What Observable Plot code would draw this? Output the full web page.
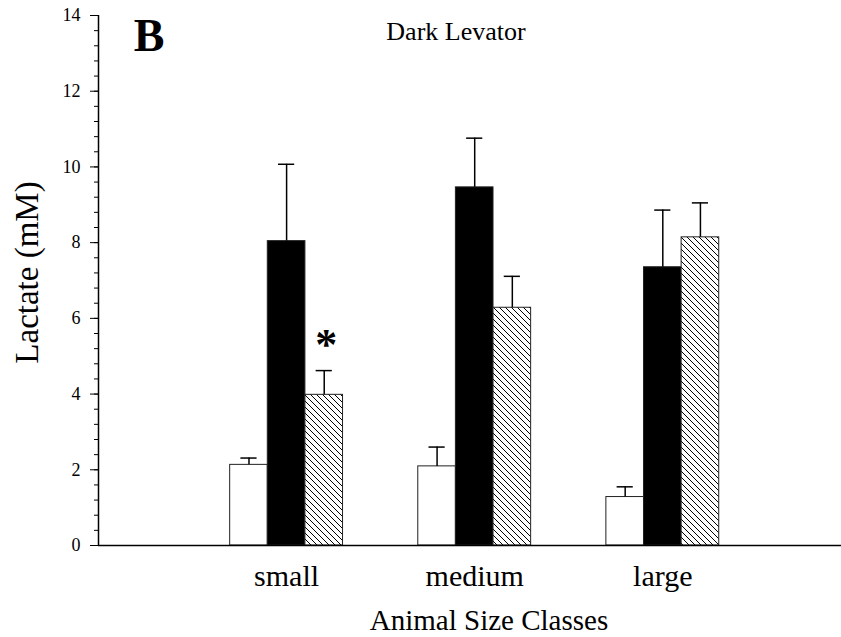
<!DOCTYPE html>
<html><head><meta charset="utf-8">
<script src="https://cdn.jsdelivr.net/npm/d3@7"></script>
<script src="https://cdn.jsdelivr.net/npm/@observablehq/plot@0.6"></script>
<style>body{margin:0;background:#fff}</style>
</head><body><div id="chart"></div>
<script>
// ---- data ----
const sizeClasses = ["small", "medium", "large"];
const treatments = ["rest", "exercise", "recovery"];
const restMean = [2.13, 2.09, 1.28];
const restSE = [0.18, 0.51, 0.27];
const exerciseMean = [8.04, 9.46, 7.35];
const exerciseSE = [2.03, 1.30, 1.51];
const recoveryMean = [3.98, 6.28, 8.14];
const recoverySE = [0.64, 0.83, 0.91];
const yMajorTicks = [0, 2, 4, 6, 8, 10, 12, 14];
const significance = [{size: "small", treatment: "recovery", label: "*"}];
const panelLetter = "B";
const panelTitle = "Dark Levator";
const xTitle = "Animal Size Classes";
const yTitle = "Lactate (mM)";

// ---- table ----
const means = [restMean, exerciseMean, recoveryMean];
const ses = [restSE, exerciseSE, recoverySE];
const rows = [];
sizeClasses.forEach((s, i) => treatments.forEach((t, j) => rows.push({
  size: s, treatment: t, mean: means[j][i], se: ses[j][i], pos: i + 1 + (j - 1) * 0.2
})));
const sigRows = significance.map(a => rows.find(r => r.size === a.size && r.treatment === a.treatment))
  .map((r, k) => ({...r, label: significance[k].label}));
const minorTicks = d3.range(0, 36).map(k => k * 0.4);

const serif = "'Liberation Serif', 'Times New Roman', serif";
const svg = Plot.plot({
  width: 841, height: 637,
  marginTop: 15, marginBottom: 92, marginLeft: 98, marginRight: 0,
  style: {fontFamily: serif, background: "white", color: "black"},
  x: {domain: [0, 3.95], axis: null},
  y: {domain: [0, 14], axis: null},
  color: {domain: treatments, range: ["white", "black", "url(#hatch)"]},
  marks: [
    Plot.rect(rows, {x1: d => d.pos - 0.1, x2: d => d.pos + 0.1, y1: 0, y2: "mean",
      fill: "treatment", stroke: "#222", strokeWidth: 1}),
    Plot.ruleX(rows, {x: "pos", y1: "mean", y2: d => d.mean + d.se, stroke: "black", strokeWidth: 1.5}),
    Plot.ruleY(rows, {y: d => d.mean + d.se, x1: d => d.pos - 0.043, x2: d => d.pos + 0.043, stroke: "black", strokeWidth: 1.5}),
    Plot.text(sigRows, {x: "pos", y: d => d.mean + d.se, text: "label", dx: 2, dy: -26,
      fontSize: 44, fontWeight: "bold", fontFamily: serif}),
    Plot.axisY({ticks: minorTicks, tickSize: 4, tickFormat: () => "", label: null, strokeWidth: 1}),
    Plot.axisY({ticks: yMajorTicks, tickSize: 8, tickPadding: 10, fontSize: 18, label: null, strokeWidth: 1}),
    Plot.axisX({ticks: [1, 2, 3], tickFormat: d => sizeClasses[d - 1], tickSize: 0, tickPadding: 19,
      fontSize: 30, label: null}),
    Plot.ruleX([0], {stroke: "black", strokeWidth: 1.5}),
    Plot.ruleY([0], {stroke: "black", strokeWidth: 1.5}),
    Plot.text([yTitle], {frameAnchor: "left", textAnchor: "middle", lineAnchor: "middle", rotate: -90,
      dx: -71, dy: -8, fontSize: 33, fontFamily: serif}),
    Plot.text([xTitle], {frameAnchor: "bottom", textAnchor: "middle", lineAnchor: "middle",
      dx: 19, dy: 75, fontSize: 29, fontFamily: serif}),
    Plot.text([panelLetter], {frameAnchor: "top-left", textAnchor: "middle", lineAnchor: "middle",
      dx: 50.5, dy: 21, fontSize: 46, fontWeight: "bold", fontFamily: serif}),
    Plot.text([panelTitle], {frameAnchor: "top", textAnchor: "middle", lineAnchor: "middle",
      dx: -14, dy: 16, fontSize: 26, fontFamily: serif})
  ]
});

const ns = "http://www.w3.org/2000/svg";
const defs = document.createElementNS(ns, "defs");
defs.innerHTML = '<pattern id="hatch" patternUnits="userSpaceOnUse" width="6" height="6">' +
  '<rect width="6" height="6" fill="white"/>' +
  '<path d="M-1,-1L7,7M-1,5L1,7M5,-1L7,1" stroke="black" stroke-width="1"/></pattern>';
svg.insertBefore(defs, svg.firstChild);
document.getElementById("chart").appendChild(svg);
</script>
</body></html>
